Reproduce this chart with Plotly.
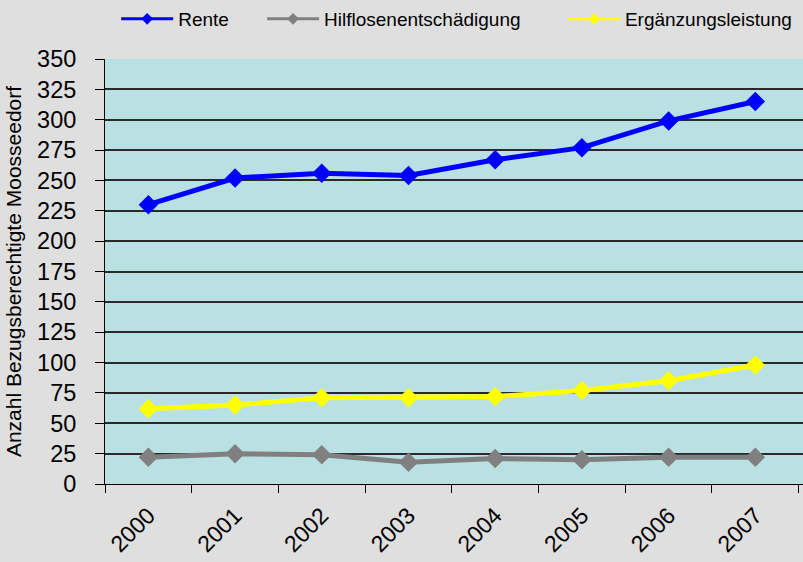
import plotly.graph_objects as go

years = ["2000", "2001", "2002", "2003", "2004", "2005", "2006", "2007"]
rente = [230, 252, 256, 254, 267, 277, 299, 315]
hilflosen = [22, 25, 24, 18, 21, 20, 22, 22]
ergaenzung = [62, 65, 71, 71, 72, 77, 85, 98]
y_ticks = list(range(0, 351, 25))

font_family = "Liberation Sans, Arial, sans-serif"

fig = go.Figure()
series = [
    ("Rente", rente, "#0000FF", "legend", 0.016),
    ("Hilflosenentschädigung", hilflosen, "#808080", "legend2", 0.225),
    ("Ergänzungsleistung", ergaenzung, "#FFFF00", "legend3", 0.656),
]
for name, vals, col, leg, lx in series:
    fig.add_trace(go.Scatter(
        x=years, y=vals, name=name, mode="lines+markers",
        line=dict(color=col, width=5),
        marker=dict(symbol="diamond", size=15, color=col),
        showlegend=False,
    ))
    # legend entry with smaller marker (as in the reference key)
    fig.add_trace(go.Scatter(
        x=[None], y=[None], name=name, mode="lines+markers",
        line=dict(color=col, width=3),
        marker=dict(symbol="diamond", size=9, color=col),
        showlegend=True, legend=leg,
    ))

leg_common = dict(
    orientation="h", y=1.094, yanchor="middle", yref="paper",
    font=dict(size=19, family=font_family), itemwidth=52,
    bgcolor="rgba(0,0,0,0)", xanchor="left",
)

fig.update_layout(
    width=803, height=562,
    margin=dict(l=105, r=0, t=58, b=78),
    paper_bgcolor="#DFDFDF",
    plot_bgcolor="#B9E0E3",
    font=dict(family=font_family, color="#000000"),
    legend=dict(x=series[0][4], **leg_common),
    legend2=dict(x=series[1][4], **leg_common),
    legend3=dict(x=series[2][4], **leg_common),
    xaxis=dict(
        type="category", tickson="boundaries", ticks="outside", ticklen=8,
        tickcolor="#000000", showline=True, linecolor="#000000", linewidth=1,
        showgrid=False, tickangle=-45, tickfont=dict(size=23),
        ticklabelstandoff=8, range=[-0.5, 7.55],
    ),
    yaxis=dict(
        range=[0, 350], tickvals=y_ticks, ticks="outside", ticklen=9,
        tickcolor="#000000", showline=True, linecolor="#000000", linewidth=1,
        showgrid=True, gridcolor="#2A2A2A", gridwidth=1.5, zeroline=False,
        tickfont=dict(size=23.5), ticklabelstandoff=14,
        title=dict(text="Anzahl Bezugsberechtigte Moosseedorf",
                   font=dict(size=21), standoff=9),
    ),
)

fig.write_html("out.html", config={"displayModeBar": False},
               post_script="document.body.style.margin='0';")
